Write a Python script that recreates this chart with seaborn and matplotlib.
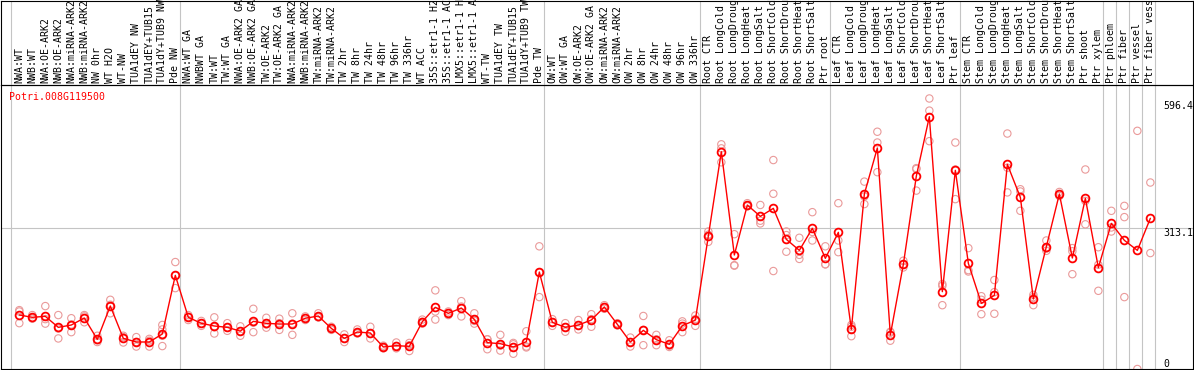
import numpy as np
import pandas as pd
import matplotlib
matplotlib.use("Agg")
import matplotlib.pyplot as plt
import seaborn as sns

gene_id = "Potri.008G119500"

categories = [
    "NWA:WT", "NWB:WT", "NWA:OE-ARK2", "NWB:OE-ARK2", "NWA:miRNA-ARK2", "NWB:miRNA-ARK2",
    "NW 0hr", "WT H2O", "WT-NW", "TUA1dEY NW", "TUA1dEY+TUB15", "TUA1dY+TUB9 NW", "Pde NW",
    "NWA:WT GA", "NWBWT GA", "TW:WT", "TW:WT GA", "NWA:OE-ARK2 GA", "NWB:OE-ARK2 GA",
    "TW:OE-ARK2", "TW:OE-ARK2 GA", "NWA:miRNA-ARK2", "NWB:miRNA-ARK2", "TW:miRNA-ARK2",
    "TW:miRNA-ARK2", "TW 2hr", "TW 8hr", "TW 24hr", "TW 48hr", "TW 96hr", "TW 336hr",
    "WT ACC", "35S::etr1-1 H2O", "35S::etr1-1 ACC", "LMX5::etr1-1 H2O", "LMX5::etr1-1 ACC",
    "WT-TW", "TUA1dEY TW", "TUA1dEY+TUB15", "TUA1dY+TUB9 TW", "Pde TW",
    "OW:WT", "OW:WT GA", "OW:OE-ARK2", "OW:OE-ARK2 GA", "OW:miRNA-ARK2", "OW:miRNA-ARK2",
    "OW 2hr", "OW 8hr", "OW 24hr", "OW 48hr", "OW 96hr", "OW 336hr",
    "Root CTR", "Root LongCold", "Root LongDrought", "Root LongHeat", "Root LongSalt",
    "Root ShortCold", "Root ShortDrought", "Root ShortHeat", "Root ShortSalt", "Ptr root",
    "Leaf CTR", "Leaf LongCold", "Leaf LongDrought", "Leaf LongHeat", "Leaf LongSalt",
    "Leaf ShortCold", "Leaf ShortDrought", "Leaf ShortHeat", "Leaf ShortSalt", "Ptr leaf",
    "Stem CTR", "Stem LongCold", "Stem LongDrought", "Stem LongHeat", "Stem LongSalt",
    "Stem ShortCold", "Stem ShortDrought", "Stem ShortHeat", "Stem ShortSalt", "Ptr shoot",
    "Ptr xylem", "Ptr phloem", "Ptr fiber", "Ptr vessel", "Ptr fiber vessel",
]

mean_values = [
    120.2, 115.0, 117.2, 92.7, 97.9, 113.5, 66.0, 140.2, 68.2, 60.1, 60.1, 77.9, 208.4,
    115.0, 101.6, 95.7, 92.7, 84.3, 106.0, 101.6, 100.1, 100.1, 113.0, 117.9, 90.5,
    68.2, 82.3, 80.1, 49.0, 51.9, 50.4, 105.3, 137.2, 123.9, 135.7, 110.5, 58.6, 56.4,
    49.0, 60.8, 215.8,
    103.8, 92.7, 97.9, 109.0, 138.0, 99.4, 60.1, 86.0, 65.3, 54.9, 96.4, 108.8,
    296.0, 483.6, 253.7, 364.9, 339.7, 357.5, 288.5, 264.0, 313.0, 246.3,
    304.1, 88.3, 389.4, 491.8, 75.7, 232.9, 429.5, 561.5, 172.1, 442.1,
    235.1, 146.1, 163.9, 455.4, 382.0, 155.8, 272.2, 389.4, 247.0, 379.8,
    225.5, 324.1, 286.3, 264.0, 335.3,
]

nan = np.nan
rep_a = [
    131, 120, 140, 120, 113, 120, 74, 154, 74, 71, 67, 98, 238,
    120, 107, 115, 102, 95, 134, 114, 112, 124, 117, 124, 94,
    77, 88, 94, 52, 59, 58, 110, 175, 128, 151, 124, 66, 76,
    58, 84, 273,
    111, 102, 109, 122, 142, 102, 70, 118, 76, 64, 106, 119,
    306, 500, 300, 369, 365, 465, 306, 292, 349, 273,
    369, 98, 417, 528, 83, 241, 447, 602, 189, 504,
    269, 162, 198, 524, 400, 165, 286, 394, 269, 444,
    271, 352, 363, 530, 415,
]
rep_b = [
    128, 113, 111, 90, 99, 117, 64, 143, 71, 60, 63, 88, 208,
    116, 101, 93, 92, 84, 103, 99, 102, 101, 113, 115, 91,
    68, 80, 78, 49, 51, 53, 105, 128, 124, 139, 107, 66, 52,
    55, 50, 215,
    104, 93, 97, 111, 138, 99, 60, 87, 66, 52, 101, 111,
    299, 491, 231, 364, 330, 390, 298, 254, 305, 233,
    286, 94, 384, 504, 81, 232, 445, 575, 185, 444,
    220, 154, 171, 448, 395, 160, 268, 389, 262, 374,
    232, 315, 338, 0, 258,
]
rep_c = [
    102, 112, 101, 68, 82, 104, 60, 124, 59, 50, 50, 74, 180,
    109, 96, 79, 85, 74, 82, 92, 87, 76, 109, 115, 87,
    60, 79, 68, 46, 46, 40, 101, 110, 120, 117, 101, 44, 41,
    34, 48, 160,
    96, 83, 88, 94, 134, 97, 50, 53, 53, 49, 82, 96,
    283, 460, 230, 362, 324, 218, 261, 245, 286, 233,
    260, 73, 367, 438, 63, 226, 397, 507, 142, 378,
    217, 122, 123, 393, 352, 142, 263, 385, 211, 322,
    174, 306, 160, nan, nan,
]
rep_d = [nan] * 11 + [51] + [nan] * 76

group_starts = [0, 13, 41, 53, 63, 73, 84, 85, 86, 87, 88]
ytick_values = [0, 313.1, 596.4]
ytick_labels = ["0", "313.1", "596.4"]

sns.set_theme(style="white")
plt.rcParams["font.family"] = ["DejaVu Sans Mono", "DejaVu Sans"]

W, H = 1194, 370
fig = plt.figure(figsize=(W / 100, H / 100), dpi=100)
fig.patch.set_facecolor("white")
ax = fig.add_axes([1 / W, 1 / H, 1192 / W, 284 / H])
ax_top = fig.add_axes([1 / W, 285 / H, 1192 / W, 84.5 / H], sharex=ax)
ax_top.patch.set_visible(False)

pos = np.arange(len(categories))
df_mean = pd.DataFrame({"pos": pos, "value": mean_values})
rep_frames = []
for r in (rep_a, rep_b, rep_c, rep_d):
    rep_frames.append(pd.DataFrame({"pos": pos, "value": np.array(r, dtype=float)}))
df_rep = pd.concat(rep_frames).dropna()

grid_col = "#c4c4c4"
for g in group_starts:
    for a in (ax, ax_top):
        a.axvline(g - 0.615, color=grid_col, lw=0.8, zorder=0)
ax.axhline(313.1, color=grid_col, lw=0.8, zorder=0)

sns.scatterplot(data=df_rep, x="pos", y="value", ax=ax, marker="o", s=28,
                linewidth=0.8, zorder=2, legend=False)
coll = ax.collections[-1]
coll.set_facecolor("none")
coll.set_edgecolor("#ea9a9a")

sns.lineplot(data=df_mean, x="pos", y="value", ax=ax, color="red", lw=1.0,
             marker="o", markersize=5.6, markerfacecolor="none",
             markeredgecolor="red", markeredgewidth=1.3, zorder=3, legend=False)

ax.set_xlim(-1.408, 90.28)
ax.set_ylim(0, 632)
ax.set_xlabel("")
ax.set_ylabel("")

ax.set_xticks(pos)
ax.set_xticklabels(categories, rotation=90, fontsize=7.1)
ax.xaxis.set_ticks_position("top")
ax.tick_params(axis="x", length=0, pad=1.4, labeltop=True, labelbottom=False,
               colors="black")

ax.set_yticks(ytick_values)
ax.set_yticklabels(ytick_labels)
ax.yaxis.tick_right()
ax.tick_params(axis="y", length=0, pad=-21.6, labelsize=7.1, colors="black")
for lab in ax.get_yticklabels():
    lab.set_ha("left")
    lab.set_va("bottom" if lab.get_text() == "0" else "top")

ax_top.tick_params(axis="both", which="both", length=0, labelbottom=False,
                   labeltop=False, labelleft=False, labelright=False,
                   bottom=False, top=False, left=False, right=False)
ax_top.set_ylim(0, 1)

for a in (ax, ax_top):
    for sp in a.spines.values():
        sp.set_color("black")
        sp.set_linewidth(0.8)
        sp.set_visible(True)

ax.text(8.3 / 1192, (369 - 91.5) / 284, gene_id, transform=ax.transAxes,
        ha="left", va="top", color="red", fontsize=7.1)

fig.savefig("out.png", dpi=100)
